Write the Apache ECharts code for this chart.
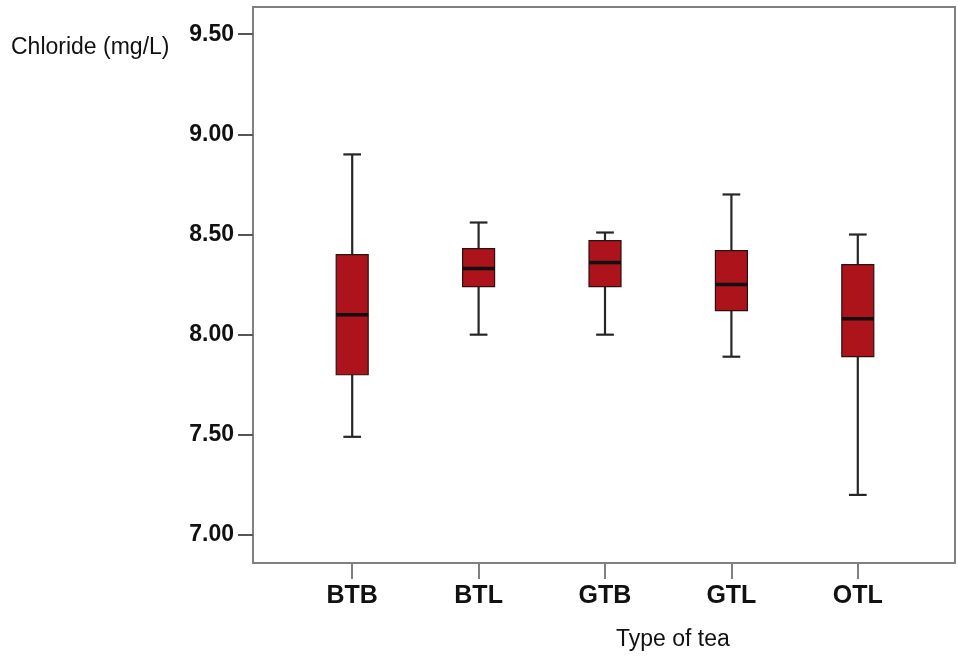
<!DOCTYPE html>
<html>
<head>
<meta charset="utf-8">
<script src="https://cdn.jsdelivr.net/npm/echarts@6/dist/echarts.min.js"></script>
<style>html,body{margin:0;padding:0;background:#fff;}#c{width:958px;height:657px;}</style>
</head>
<body>
<div id="c"></div>
<script>
const categories = ['BTB', 'BTL', 'GTB', 'GTL', 'OTL'];
const lowWhisker = [7.49, 8.00, 8.00, 7.89, 7.20];
const q1 = [7.80, 8.24, 8.24, 8.12, 7.89];
const median = [8.10, 8.33, 8.36, 8.25, 8.08];
const q3 = [8.40, 8.43, 8.47, 8.42, 8.35];
const highWhisker = [8.90, 8.56, 8.51, 8.70, 8.50];
const yTicks = [7.0, 7.5, 8.0, 8.5, 9.0, 9.5];

const data = categories.map((c, i) => [i, lowWhisker[i], q1[i], median[i], q3[i], highWhisker[i]]);

const yMin = 6.86, yMax = 9.636;
const chart = echarts.init(document.getElementById('c'));

function renderItem(params, api) {
  const idx = api.value(0);
  const lo = api.coord([idx, api.value(1)]);
  const b1 = api.coord([idx, api.value(2)]);
  const md = api.coord([idx, api.value(3)]);
  const b3 = api.coord([idx, api.value(4)]);
  const hi = api.coord([idx, api.value(5)]);
  const band = api.size([1, 0])[0];
  const bw = band * 0.253;
  const cw = band * 0.14;
  const x = md[0];
  const lineStyle = { stroke: '#262626', lineWidth: 2.2 };
  return {
    type: 'group',
    children: [
      { type: 'line', shape: { x1: x, y1: hi[1], x2: x, y2: b3[1] }, style: lineStyle },
      { type: 'line', shape: { x1: x, y1: b1[1], x2: x, y2: lo[1] }, style: lineStyle },
      { type: 'line', shape: { x1: x - cw / 2, y1: hi[1], x2: x + cw / 2, y2: hi[1] }, style: lineStyle },
      { type: 'line', shape: { x1: x - cw / 2, y1: lo[1], x2: x + cw / 2, y2: lo[1] }, style: lineStyle },
      { type: 'rect', shape: { x: x - bw / 2, y: b3[1], width: bw, height: b1[1] - b3[1] },
        style: { fill: '#ac131b', stroke: '#2a1010', lineWidth: 1.2 } },
      { type: 'line', shape: { x1: x - bw / 2, y1: md[1], x2: x + bw / 2, y2: md[1] },
        style: { stroke: '#111', lineWidth: 3.5 } }
    ]
  };
}

chart.setOption({
  animation: false,
  backgroundColor: '#fff',
  title: [
    { text: 'Chloride (mg/L)', left: 6, top: 31,
      textStyle: { fontFamily: 'Liberation Sans, Arial', fontSize: 23, fontWeight: 'normal', color: '#111' } },
    { text: 'Type of tea', left: 611, top: 623,
      textStyle: { fontFamily: 'Liberation Sans, Arial', fontSize: 23, fontWeight: 'normal', color: '#111' } }
  ],
  grid: [
    { left: 253, right: 3, top: 7, bottom: 94, show: true, borderColor: '#808080', borderWidth: 2, backgroundColor: 'transparent' },
    { left: 289, right: 37, top: 7, bottom: 94 }
  ],
  xAxis: [
    { type: 'value', gridIndex: 0, show: false, min: 0, max: 1 },
    { type: 'category', gridIndex: 1, data: categories,
      axisLine: { show: false },
      axisTick: { show: true, alignWithLabel: true, length: 16, lineStyle: { color: '#808080', width: 2 } },
      axisLabel: { margin: 21, fontFamily: 'Liberation Sans, Arial', fontSize: 25, fontWeight: 'bold', color: '#111' } }
  ],
  yAxis: [
    { type: 'value', gridIndex: 0, min: yMin, max: yMax,
      axisLine: { show: false },
      splitLine: { show: false },
      axisTick: { show: true, length: 15, customValues: yTicks, lineStyle: { color: '#555', width: 2 } },
      axisLabel: { customValues: yTicks, margin: 19, formatter: v => v.toFixed(2),
        fontFamily: 'Liberation Sans, Arial', fontSize: 23, fontWeight: 'bold', color: '#111' } },
    { type: 'value', gridIndex: 1, min: yMin, max: yMax, show: false }
  ],
  series: [{
    type: 'custom',
    xAxisIndex: 1, yAxisIndex: 1,
    renderItem: renderItem,
    encode: { x: 0, y: [1, 2, 3, 4, 5] },
    data: data
  }]
});
</script>
</body>
</html>
